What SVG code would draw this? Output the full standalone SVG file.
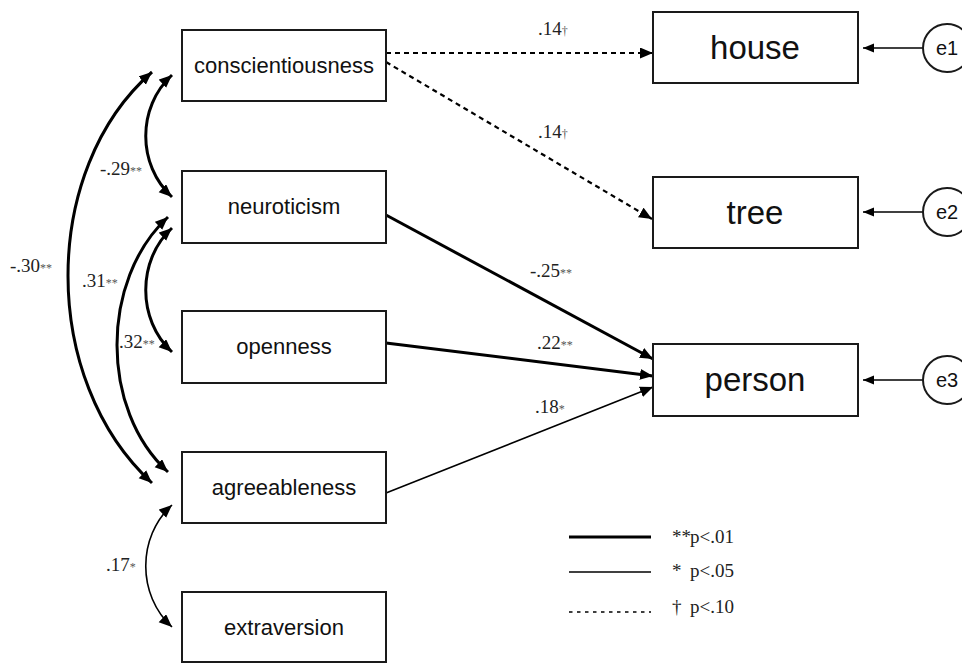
<svg xmlns="http://www.w3.org/2000/svg" width="962" height="664" viewBox="0 0 962 664">
<defs>
<marker id="ah" markerUnits="userSpaceOnUse" markerWidth="14" markerHeight="12" refX="13" refY="5.5" orient="auto-start-reverse"><path d="M0,0 L13,5.5 L0,11 z" fill="#000"/></marker>
<marker id="ahs" markerUnits="userSpaceOnUse" markerWidth="12" markerHeight="10" refX="11" refY="4.5" orient="auto-start-reverse"><path d="M0,0 L11,4.5 L0,9 z" fill="#000"/></marker>
<style>
.box{fill:#fff;stroke:#1a1a1a;stroke-width:2}
.lbl{font-family:"Liberation Sans",Arial,sans-serif;font-size:22px;fill:#111;text-anchor:middle}
.big{font-size:33px}
.ec{font-size:20px}
.thick{fill:none;stroke:#000;stroke-width:3}
.thin{fill:none;stroke:#000;stroke-width:1.6}
.dot{fill:none;stroke:#000;stroke-width:2.2;stroke-dasharray:5 4}
.num{font-family:"Liberation Serif","Times New Roman",serif;font-size:19px;fill:#222}
.sig{font-size:12px;fill:#555}
.leg{font-family:"Liberation Serif","Times New Roman",serif;font-size:19px;fill:#222}
</style>
</defs>
<rect width="962" height="664" fill="#fff"/>
<g id="connectors">
<path class="dot" d="M386,53 L653,53" marker-end="url(#ah)"/>
<path class="dot" d="M386,62 L652,219" marker-end="url(#ah)"/>
<path class="thick" d="M386,215 L653,359" marker-end="url(#ah)"/>
<path class="thick" d="M386,343 L653,376" marker-end="url(#ah)"/>
<path class="thin" d="M386,493 L653,387" marker-end="url(#ah)"/>
<path class="thin" d="M923,48 L863,48" marker-end="url(#ahs)"/>
<path class="thin" d="M923,212 L863,212" marker-end="url(#ahs)"/>
<path class="thin" d="M923,380 L863,380" marker-end="url(#ahs)"/>
<path class="thick" d="M172,75 C137,107 137,165 172,197" marker-start="url(#ah)" marker-end="url(#ah)"/>
<path class="thick" d="M152,72 C40,170 40,380 152,483" marker-start="url(#ah)" marker-end="url(#ah)"/>
<path class="thick" d="M168,217 C100,280 100,410 168,472" marker-start="url(#ah)" marker-end="url(#ah)"/>
<path class="thick" d="M172,228 C137,260 137,320 172,352" marker-start="url(#ah)" marker-end="url(#ah)"/>
<path class="thin" d="M172,505 C137,537 137,595 172,627" marker-start="url(#ah)" marker-end="url(#ah)"/>
</g>
<g id="labels">
<text class="num" x="538" y="35">.14<tspan class="sig">†</tspan></text>
<text class="num" x="538" y="138">.14<tspan class="sig">†</tspan></text>
<text class="num" x="530" y="277">-.25<tspan class="sig">**</tspan></text>
<text class="num" x="537" y="349">.22<tspan class="sig">**</tspan></text>
<text class="num" x="535" y="413">.18<tspan class="sig">*</tspan></text>
<text class="num" x="100" y="175">-.29<tspan class="sig">**</tspan></text>
<text class="num" x="10" y="272">-.30<tspan class="sig">**</tspan></text>
<text class="num" x="82" y="287">.31<tspan class="sig">**</tspan></text>
<text class="num" x="119" y="348">.32<tspan class="sig">**</tspan></text>
<text class="num" x="106" y="571">.17<tspan class="sig">*</tspan></text>
</g>
<g id="conscientiousness"><rect class="box" x="182" y="30" width="204" height="71"/><text class="lbl" x="284" y="73">conscientiousness</text></g>
<g id="neuroticism"><rect class="box" x="182" y="171" width="204" height="72"/><text class="lbl" x="284" y="214">neuroticism</text></g>
<g id="openness"><rect class="box" x="182" y="311" width="204" height="72"/><text class="lbl" x="284" y="354">openness</text></g>
<g id="agreeableness"><rect class="box" x="182" y="452" width="204" height="71"/><text class="lbl" x="284" y="495">agreeableness</text></g>
<g id="extraversion"><rect class="box" x="182" y="592" width="204" height="70"/><text class="lbl" x="284" y="635">extraversion</text></g>
<g id="house"><rect class="box" x="653" y="12" width="205" height="71"/><text class="lbl big" x="755" y="59">house</text></g>
<g id="tree"><rect class="box" x="653" y="177" width="205" height="71"/><text class="lbl big" x="755" y="224">tree</text></g>
<g id="person"><rect class="box" x="653" y="344" width="205" height="72"/><text class="lbl big" x="755" y="391">person</text></g>
<g id="e1"><circle class="box" cx="947" cy="48" r="24"/><text class="lbl ec" x="947" y="55">e1</text></g>
<g id="e2"><circle class="box" cx="947" cy="212" r="24"/><text class="lbl ec" x="947" y="219">e2</text></g>
<g id="e3"><circle class="box" cx="947" cy="380" r="24"/><text class="lbl ec" x="947" y="387">e3</text></g>
<g id="legend">
<line x1="569" y1="537" x2="651" y2="537" stroke="#000" stroke-width="3"/>
<line x1="569" y1="572" x2="651" y2="572" stroke="#000" stroke-width="1.6"/>
<line x1="569" y1="612" x2="651" y2="612" stroke="#000" stroke-width="1.6" stroke-dasharray="3.5 4.5"/>
<text class="leg" x="672" y="543">**<tspan x="690">p&lt;.01</tspan></text>
<text class="leg" x="672" y="577">*<tspan x="690">p&lt;.05</tspan></text>
<text class="leg" x="672" y="613">†<tspan x="690">p&lt;.10</tspan></text>
</g>
</svg>
